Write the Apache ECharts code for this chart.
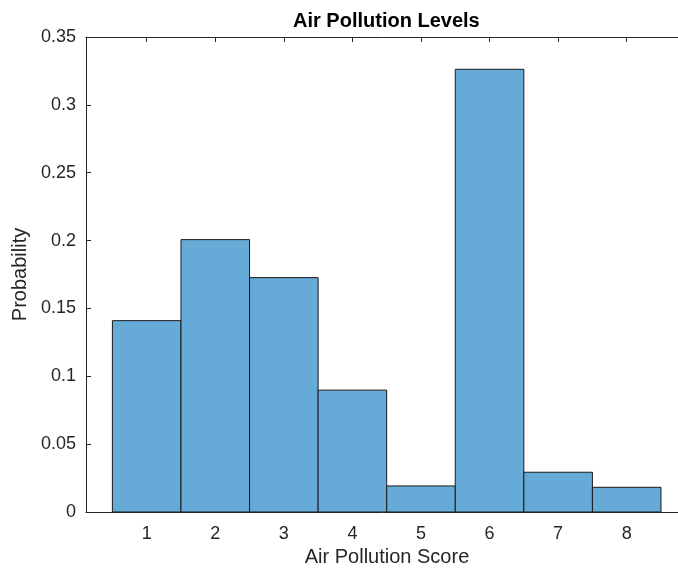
<!DOCTYPE html>
<html>
<head>
<meta charset="utf-8">
<script src="https://cdn.jsdelivr.net/npm/echarts@6/dist/echarts.min.js"></script>
<style>
html,body{margin:0;padding:0;background:#fff;}
#chart{width:678px;height:570px;}
</style>
</head>
<body>
<div id="chart"></div>
<script>
const titleText = 'Air Pollution Levels';
const xName = 'Air Pollution Score';
const yName = 'Probability';
const scores = [1, 2, 3, 4, 5, 6, 7, 8];
const probabilities = [0.141, 0.2007, 0.1727, 0.0898, 0.0192, 0.3262, 0.0293, 0.0182];
const binWidth = 1;
const xTicks = [1, 2, 3, 4, 5, 6, 7, 8];

const FONT = '"Liberation Sans", Arial, Helvetica, sans-serif';
const AX = '#262626';

const chart = echarts.init(document.getElementById('chart'), null, {renderer: 'canvas'});

const data = scores.map((s, i) => [s, probabilities[i]]);

const xMin = 0.115, xMax = 8.894;

const option = {
  backgroundColor: '#ffffff',
  animation: false,
  title: {
    text: titleText,
    left: 293,
    top: 11,
    padding: 0,
    textStyle: {fontFamily: FONT, fontSize: 20, fontWeight: 'bold', color: '#000'}
  },
  grid: {left: 86, top: 37, width: 602, height: 475, containLabel: false, outerBoundsMode: 'none'},
  xAxis: [
    {
      type: 'value', position: 'bottom', min: xMin, max: xMax,
      name: xName, nameLocation: 'middle', nameGap: 35,
      nameTextStyle: {fontFamily: FONT, fontSize: 20, color: AX},
      axisLine: {show: true, onZero: false, lineStyle: {color: AX, width: 1}},
      axisTick: {show: true, inside: true, length: 5, customValues: xTicks, lineStyle: {color: AX}},
      axisLabel: {show: true, customValues: xTicks, fontFamily: FONT, fontSize: 18, color: AX, margin: 13},
      splitLine: {show: false}
    },
    {
      type: 'value', position: 'top', min: xMin, max: xMax,
      axisLine: {show: true, onZero: false, lineStyle: {color: AX, width: 1}},
      axisTick: {show: true, inside: true, length: 5, customValues: xTicks, lineStyle: {color: AX}},
      axisLabel: {show: false},
      splitLine: {show: false}
    }
  ],
  yAxis: [
    {
      type: 'value', position: 'left', min: 0, max: 0.35, interval: 0.05,
      name: yName, nameLocation: 'middle', nameGap: 50,
      nameTextStyle: {fontFamily: FONT, fontSize: 20, color: AX},
      axisLine: {show: true, onZero: false, lineStyle: {color: AX, width: 1}},
      axisTick: {show: true, inside: true, length: 5, lineStyle: {color: AX}},
      axisLabel: {
        show: true, fontFamily: FONT, fontSize: 18, color: AX, margin: 10,
        formatter: v => String(+(+v).toFixed(2))
      },
      splitLine: {show: false}
    }
  ],
  series: [{
    type: 'custom',
    xAxisIndex: 0,
    yAxisIndex: 0,
    data: data,
    clip: true,
    renderItem: function (params, api) {
      const x = api.value(0);
      const y = api.value(1);
      const p0 = api.coord([x - binWidth / 2, y]);
      const p1 = api.coord([x + binWidth / 2, 0]);
      return {
        type: 'rect',
        shape: {x: p0[0], y: p0[1], width: p1[0] - p0[0], height: p1[1] - p0[1]},
        style: {fill: '#66aad8', stroke: '#1a1a1a', lineWidth: 1}
      };
    },
    encode: {x: 0, y: 1}
  }]
};

chart.setOption(option);
</script>
</body>
</html>
